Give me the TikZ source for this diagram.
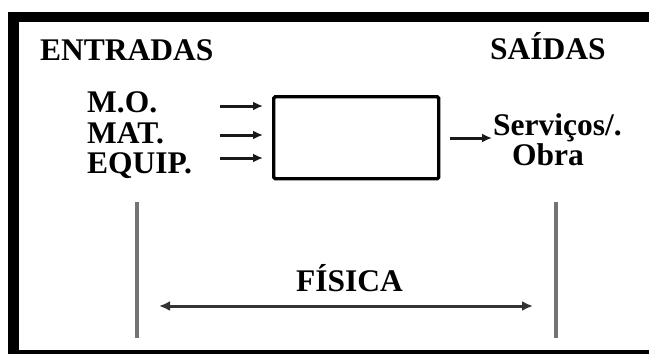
\documentclass[tikz,border=0pt]{standalone}
\usepackage{fontspec}
\setmainfont{Liberation Serif}
\usetikzlibrary{arrows.meta}
\begin{document}
\begin{tikzpicture}[x=1pt,y=-1pt,
  lbl/.style={anchor=base west,inner sep=0pt,font=\fontsize{31.5}{31.5}\selectfont\bfseries},
  arr/.style={line width=3pt,draw=black!90,-{Latex[length=10pt,width=9pt]}},
  darr/.style={line width=3pt,draw=black!80,{Latex[length=11pt,width=10pt]}-{Latex[length=11pt,width=10pt]}},
  vline/.style={line width=3.2pt,draw=black!55},
  procbox/.style={draw,line width=3.4pt,rounded corners=1.5pt,minimum width=165pt,minimum height=82pt,inner sep=0pt}]
\useasboundingbox (0,0) rectangle (649,354);
% frame
\fill[black] (8,12) rectangle (649,354);
\fill[white] (19,22) rectangle (649,350);
% titles
\node[lbl] (ent) at (40,60) {ENTRADAS};
\node[lbl] (sai) at (490,59) {SAÍDAS};
% inputs
\node[lbl] (mo) at (87,112) {M.O.};
\node[lbl] (mat) at (87,143) {MAT.};
\node[lbl] (eq) at (87,173) {EQUIP.};
% process box
\node[procbox] (box) at (356.25,137.75) {};
% input arrows
\coordinate (a1s) at (220,106); \coordinate (a1e) at (263,106);
\coordinate (a2s) at (220,135); \coordinate (a2e) at (263,135);
\coordinate (a3s) at (220,158); \coordinate (a3e) at (263,158);
\draw[arr] (a1s) -- (a1e);
\draw[arr] (a2s) -- (a2e);
\draw[arr] (a3s) -- (a3e);
% output
\coordinate (os) at (450,138); \coordinate (oe) at (492,138);
\draw[arr] (os) -- (oe);
\node[lbl] (serv) at (493,135) {Serviços/.};
\node[lbl] (obra) at (512,165) {Obra};
% vertical lines
\coordinate (l1) at (137,202); \coordinate (l2) at (137,338);
\coordinate (r1) at (556,202); \coordinate (r2) at (556,338);
\draw[vline] (l1) -- (l2);
\draw[vline] (r1) -- (r2);
% física
\node[lbl] (fis) at (296,291) {FÍSICA};
\coordinate (d1) at (159,306); \coordinate (d2) at (533,306);
\draw[darr] (d1) -- (d2);
\end{tikzpicture}
\end{document}
